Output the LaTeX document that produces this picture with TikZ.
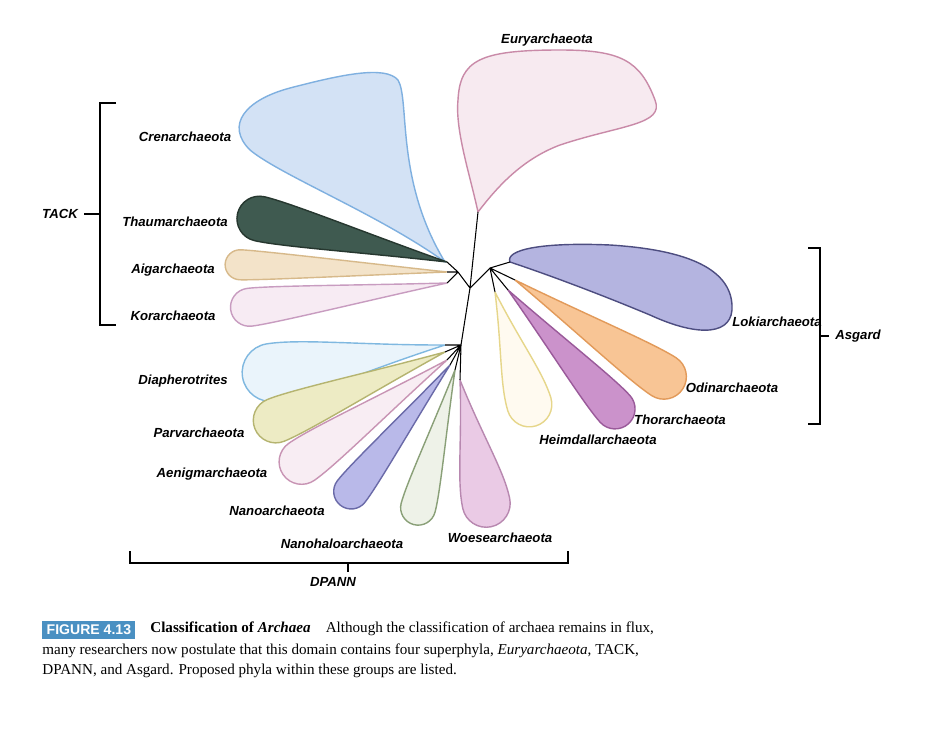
\documentclass[tikz,border=0pt]{standalone}
\usepackage{fontspec}
\setmainfont{Liberation Serif}
\newfontfamily\lab{Liberation Sans}
\definecolor{euD}{HTML}{C98AA8}\definecolor{euF}{HTML}{F7EAF0}
\definecolor{crD}{HTML}{7FB0E0}\definecolor{crF}{HTML}{D3E2F5}
\definecolor{thF}{HTML}{3F5A50}\definecolor{thD}{HTML}{26372F}
\definecolor{aiF}{HTML}{F3E3C9}\definecolor{aiD}{HTML}{D7B98A}
\definecolor{koF}{HTML}{F7EBF3}\definecolor{koD}{HTML}{C89CC0}
\definecolor{loD}{HTML}{4D4D80}\definecolor{loF}{HTML}{B4B4E0}
\definecolor{odF}{HTML}{F8C595}\definecolor{odD}{HTML}{E29A5A}
\definecolor{toF}{HTML}{CB92CB}\definecolor{toD}{HTML}{9A5A9A}
\definecolor{heF}{HTML}{FFFAF0}\definecolor{heD}{HTML}{E6D68A}
\definecolor{diF}{HTML}{EAF4FB}\definecolor{diD}{HTML}{7FB8E0}
\definecolor{paF}{HTML}{EDEBC4}\definecolor{paD}{HTML}{B5B470}
\definecolor{aeF}{HTML}{F8EDF3}\definecolor{aeD}{HTML}{C894B4}
\definecolor{naF}{HTML}{B9B9E9}\definecolor{naD}{HTML}{6A6AA8}
\definecolor{nhF}{HTML}{EEF2E8}\definecolor{nhD}{HTML}{8AA078}
\definecolor{woF}{HTML}{EACAE5}\definecolor{woD}{HTML}{B888B0}
\definecolor{figB}{HTML}{4A90C2}
\begin{document}
\begin{tikzpicture}[x=0.02cm,y=0.02cm,
  lbl/.style={font=\lab\bfseries\itshape\fontsize{7.5}{9}\selectfont},
  tree/.style={line width=0.6pt,black},
  brk/.style={line width=0.6pt,black},
  blob/.style={line width=0.8pt}]
\useasboundingbox (0,0) rectangle (940,-747);
\fill[white] (0,0) rectangle (940,-747);
\def\petal#1#2#3#4#5#6#7{%
 \filldraw[blob,draw=#2,fill=#1,shift={(#3,#4)},rotate=#5]
 (0,0) .. controls (0.4*#6,-0.22*#7) and (#6-1.1*#7,-0.5*#7) .. (#6-0.5*#7,-0.5*#7)
 arc(-90:90:0.5*#7)
 .. controls (#6-1.1*#7,0.5*#7) and (0.4*#6,0.22*#7) .. (0,0);}
% Euryarchaeota
\filldraw[blob,draw=euD,fill=euF] (478,-212) .. controls (470,-175) and (455,-130) .. (458,-100)
  .. controls (460,-60) and (480,-50) .. (560,-50) .. controls (620,-50) and (640,-60) .. (655,-100)
  .. controls (665,-125) and (620,-125) .. (560,-145) .. controls (520,-160) and (495,-190) .. (478,-212);
% Crenarchaeota
\filldraw[blob,draw=crD,fill=crF] (445,-262) .. controls (380,-215) and (280,-175) .. (250,-150)
  .. controls (225,-125) and (245,-100) .. (290,-88) .. controls (340,-75) and (385,-65) .. (398,-80)
  .. controls (410,-100) and (395,-180) .. (445,-262);
% TACK petals
\petal{thF}{thD}{447}{-262}{167}{215}{45}
\petal{aiF}{aiD}{447}{-272}{178}{222}{30}
\petal{koF}{koD}{447}{-283}{187}{218}{38}
% Lokiarchaeota
\filldraw[blob,draw=loD,fill=loF] (510,-262) .. controls (505,-250) and (540,-242) .. (610,-245)
  .. controls (690,-250) and (730,-270) .. (732,-305) .. controls (734,-335) and (700,-338) .. (650,-315)
  .. controls (590,-290) and (540,-272) .. (510,-262);
\petal{odF}{odD}{515}{-280}{-33}{200}{45}
\petal{toF}{toD}{508}{-290}{-48}{180}{40}
\petal{heF}{heD}{495}{-292}{-73}{140}{45}
% DPANN petals
\petal{diF}{diD}{445}{-345}{189}{205}{58}
\petal{paF}{paD}{445}{-352}{202}{205}{45}
\petal{aeF}{aeD}{447}{-360}{215}{200}{45}
\petal{naF}{naD}{450}{-365}{232}{178}{35}
\petal{nhF}{nhD}{455}{-370}{255}{160}{35}
\petal{woF}{woD}{460}{-380}{282}{150}{48}
% tree
\coordinate (root) at (470,-288);
\coordinate (eu) at (478,-212);
\coordinate (tack) at (458,-272);
\coordinate (asg) at (490,-268);
\coordinate (dp) at (461,-345);
\draw[tree] (eu)--(root) (tack)--(root) (asg)--(root) (dp)--(root);
\draw[tree] (tack)--(447,-262) (tack)--(447,-272) (tack)--(447,-283);
\draw[tree] (asg)--(510,-262) (asg)--(515,-280) (asg)--(508,-290) (asg)--(495,-292);
\draw[tree] (dp)--(445,-345) (dp)--(445,-352) (dp)--(447,-360) (dp)--(450,-365) (dp)--(455,-370) (dp)--(460,-380);
% labels
\node[lbl] (l1) at (547,-40) {Euryarchaeota};
\node[lbl] (l2) at (185,-137) {Crenarchaeota};
\node[lbl] (l3) at (175,-222) {Thaumarchaeota};
\node[lbl] (l4) at (173,-270) {Aigarchaeota};
\node[lbl] (l5) at (173,-316) {Korarchaeota};
\node[lbl] (tk) at (60,-214) {TACK};
\node[lbl] (l6) at (777,-322) {Lokiarchaeota};
\node[lbl] (as) at (858,-336) {Asgard};
\node[lbl] (l7) at (732,-388) {Odinarchaeota};
\node[lbl] (l8) at (680,-420) {Thorarchaeota};
\node[lbl] (l9) at (598,-440) {Heimdallarchaeota};
\node[lbl] (l10) at (183,-381) {Diapherotrites};
\node[lbl] (l11) at (199,-433) {Parvarchaeota};
\node[lbl] (l12) at (212,-474) {Aenigmarchaeota};
\node[lbl] (l13) at (277,-511) {Nanoarchaeota};
\node[lbl] (l14) at (342,-544) {Nanohaloarchaeota};
\node[lbl] (l15) at (500,-538) {Woesearchaeota};
\node[lbl] (dn) at (333,-582) {DPANN};
% brackets
\draw[brk] (116,-103)--(100,-103)--(100,-325)--(116,-325);
\draw[brk] (tk.east)--(100,-214);
\draw[brk] (808,-248)--(820,-248)--(820,-424)--(808,-424);
\draw[brk] (820,-336)--(as.west);
\draw[brk] (130,-551)--(130,-563)--(568,-563)--(568,-551);
\draw[brk] (348,-563)--(348,-572);
% caption
\node[fill=figB,text=white,font=\lab\bfseries\fontsize{8}{9}\selectfont,inner sep=2.5pt,anchor=west] (fig) at (42,-630) {FIGURE 4.13};
\node[anchor=west,inner sep=0,font=\fontsize{8.6}{10}\selectfont] (c1) at (150,-629) {\textbf{Classification of \textit{Archaea}}\hspace{1em}Although the classification of archaea remains in flux,};
\node[anchor=west,inner sep=0,font=\fontsize{8.6}{10}\selectfont] (c2) at (42,-651) {many researchers now postulate that this domain contains four superphyla, \textit{Euryarchaeota}, TACK,};
\node[anchor=west,inner sep=0,font=\fontsize{8.6}{10}\selectfont] (c3) at (42,-671) {DPANN, and Asgard. Proposed phyla within these groups are listed.};
\end{tikzpicture}
\end{document}
